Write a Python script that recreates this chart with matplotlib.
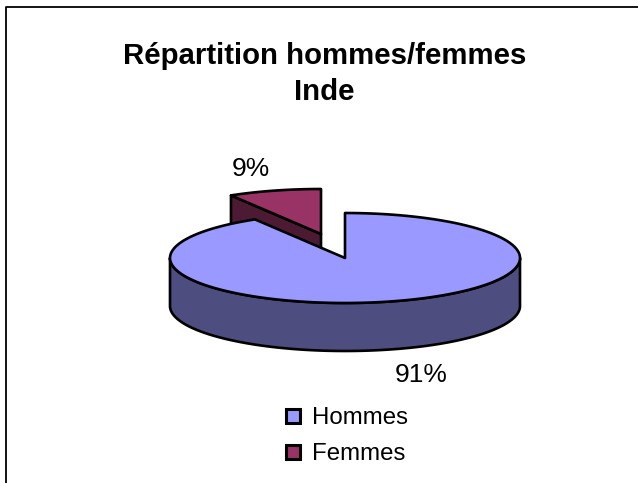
import numpy as np
import matplotlib
matplotlib.use('Agg')
import matplotlib.pyplot as plt

plt.rcParams['font.family'] = ['Liberation Sans', 'DejaVu Sans']

# data
categories = ['Hommes', 'Femmes']
values = [91.4, 8.6]
title_lines = ['Répartition hommes/femmes', 'Inde']
top_colors = ['#9999FF', '#993366']
side_colors = ['#4D4D80', '#4D1A33']

# pie geometry in pixels
cx, cy = 345, 258
rx, ry = 175, 45
depth = 48
explode = (-24, -24)
edge_lw = 1.9


def rim(a1, a2, dx=0, dy=0):
    t = np.radians(np.linspace(a1, a2, 300))
    return cx + dx + rx * np.cos(t), cy + dy - ry * np.sin(t)


fig = plt.figure(figsize=(6.38, 4.83), dpi=100)
ax = fig.add_axes([0, 0, 1, 1])
ax.set_xlim(0, 638)
ax.set_ylim(483, 0)
ax.axis('off')

# frame: only top and left are inside the picture
ax.plot([6, 6, 638], [483, 7, 7], color='black', lw=1.3, zorder=1)

sweep = 360 * values[0] / sum(values)
a_split = 90 - sweep  # slices go clockwise from 12 o'clock
a_split_pos = a_split + 360

# Femmes slice, pulled out
ex, ey = explode
xr, yr = rim(a_split_pos, 90, ex, ey)
wall_x = [xr[0], cx + ex, cx + ex, xr[0]]
wall_y = [yr[0], cy + ey, cy + ey + depth, yr[0] + depth]
ax.fill(wall_x, wall_y, fc=side_colors[1], ec='black', lw=edge_lw, joinstyle='round', zorder=2)
ax.fill(np.r_[xr, cx + ex], np.r_[yr, cy + ey], fc=top_colors[1], ec='black', lw=edge_lw,
        joinstyle='round', zorder=3)

# Hommes slice
xs, ys = rim(180, 360)
ax.fill(np.r_[xs, xs[::-1]], np.r_[ys, ys[::-1] + depth], fc=side_colors[0], ec='black', lw=edge_lw,
        joinstyle='round', zorder=4)
xt, yt = rim(90, a_split)
ax.fill(np.r_[xt, cx], np.r_[yt, cy], fc=top_colors[0], ec='black', lw=edge_lw,
        joinstyle='round', zorder=5)

# texts
ax.text(324.5, 56.5, title_lines[0], fontsize=21.2, fontweight='bold', ha='center', va='center')
ax.text(324.5, 92, title_lines[1], fontsize=21.2, fontweight='bold', ha='center', va='center')
ax.text(251, 169.5, f'{values[1]:.0f}%', fontsize=19, ha='center', va='center')
ax.text(421, 374.5, f'{values[0]:.0f}%', fontsize=19, ha='center', va='center')

# legend
legend_y = [416, 452]
for name, color, ly in zip(categories, top_colors, legend_y):
    ax.add_patch(plt.Rectangle((286, ly - 7), 14, 14, fc=color, ec='black', lw=2.2, zorder=5))
    ax.text(312.5, ly + 1.5, name, fontsize=17.3, ha='left', va='center')

plt.savefig('out.png', dpi=100)
